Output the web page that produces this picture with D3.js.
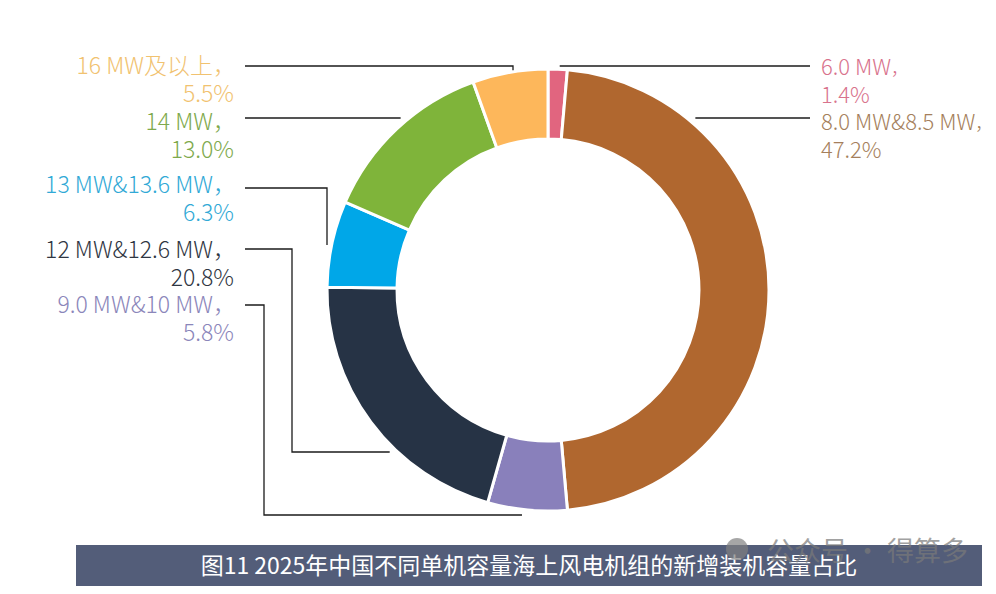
<!DOCTYPE html>
<html><head><meta charset="utf-8">
<script src="https://cdn.jsdelivr.net/npm/d3@7"></script>
<style>
html,body{margin:0;padding:0;background:#fff;}
svg{display:block;}
text{font-family:"Noto Sans CJK SC","Noto Sans",sans-serif;}
</style></head>
<body>
<svg id="chart" width="996" height="594"></svg>
<script>
// ---- data ----
const categories = ["6.0 MW", "8.0 MW&8.5 MW", "9.0 MW&10 MW", "12 MW&12.6 MW", "13 MW&13.6 MW", "14 MW", "16 MW及以上"];
const shares = [1.4, 47.2, 5.8, 20.8, 6.3, 13.0, 5.5];
const sliceColors = ["#e1657f", "#b0672f", "#8980bb", "#263345", "#00a7e8", "#7fb43a", "#fdb75b"];
const labelColors = ["#d8728c", "#a57f5c", "#8b86ba", "#2f3642", "#31a9d6", "#7ea94c", "#f1c270"];
const title = "图11 2025年中国不同单机容量海上风电机组的新增装机容量占比";
const watermark = "公众号 · 得算多";

// ---- layout (positions only) ----
const W = 996, H = 594;
const cx = 548, cy = 290, rOuter = 221, rInner = 151, rAnchor = 226.5;
const labelLayout = [
  {side: "right", y: 67, ly: 66, mode: "midx"},
  {side: "right", y: 122, ly: 118, mode: "h"},
  {side: "left", y: 305, ly: 305, ex: 264, hy: 515, mode: "elbowH"},
  {side: "left", y: 250, ly: 249, ex: 292, hy: 452, mode: "elbowH"},
  {side: "left", y: 185, ly: 188, ex: 327, endY: 245, mode: "elbowV"},
  {side: "left", y: 122, ly: 118, mode: "h"},
  {side: "left", y: 66, ly: 66, mode: "elbowMid"}
];
const leftTextX = 236, rightTextX = 821, leftLineX = 245, rightLineX = 810, lineGap = 28;

const svg = d3.select("#chart");

const pie = d3.pie().sort(null).value(d => d.v).startAngle(0).endAngle(2 * Math.PI);
const arcs = pie(shares.map((v, i) => ({v, i})));
const arc = d3.arc().innerRadius(rInner).outerRadius(rOuter);

const g = svg.append("g").attr("transform", `translate(${cx},${cy})`);
g.selectAll("path.slice").data(arcs).join("path")
  .attr("class", "slice")
  .attr("d", arc)
  .attr("fill", d => sliceColors[d.data.i])
  .attr("stroke", "#fff").attr("stroke-width", 3).attr("stroke-linejoin", "miter");

function circleX(y, r, side) { const dy = y - cy; const dx = Math.sqrt(Math.max(0, r * r - dy * dy)); return side === "left" ? cx - dx : cx + dx; }
function midPoint(a, r) { const m = (a.startAngle + a.endAngle) / 2; return [cx + r * Math.sin(m), cy - r * Math.cos(m)]; }

const lines = svg.append("g").attr("fill", "none").attr("stroke", "#1b1b1b").attr("stroke-width", 1.3);
arcs.forEach((a, i) => {
  const L = labelLayout[i];
  let pts;
  if (L.mode === "h") {
    const x0 = L.side === "left" ? leftLineX : rightLineX;
    pts = [[x0, L.ly], [circleX(L.ly, rAnchor, L.side), L.ly]];
  } else if (L.mode === "midx") {
    const m = midPoint(a, rOuter);
    pts = [[rightLineX, L.ly], [m[0] + 2, L.ly]];
  } else if (L.mode === "elbowMid") {
    const m = midPoint(a, rOuter);
    pts = [[leftLineX, L.ly], [m[0] + 3, L.ly], [m[0] + 3, m[1] - 2]];
  } else if (L.mode === "elbowV") {
    pts = [[leftLineX, L.ly], [L.ex, L.ly], [L.ex, L.endY]];
  } else {
    pts = [[leftLineX, L.ly], [L.ex, L.ly], [L.ex, L.hy], [circleX(L.hy, rAnchor, L.side), L.hy]];
  }
  lines.append("path").attr("d", d3.line()(pts));
});

// labels
const labels = svg.append("g").attr("font-weight", 300);
arcs.forEach((a, i) => {
  const L = labelLayout[i];
  const x = L.side === "left" ? leftTextX : rightTextX;
  const anchor = L.side === "left" ? "end" : "start";
  const fs = L.side === "left" ? 23 : 22;
  const t = labels.append("text").attr("x", x).attr("y", L.y).attr("dy", "0.35em").attr("font-size", fs)
    .attr("text-anchor", anchor).attr("fill", labelColors[i]);
  t.append("tspan").text(categories[i]);
  // full-width comma; on the right side its empty trailing half would run past the edge
  t.append("tspan").attr("font-size", L.side === "left" ? fs : fs * 0.8).text("，");
  labels.append("text").attr("x", L.side === "left" ? x - 2 : x).attr("y", L.y + lineGap).attr("dy", "0.35em").attr("font-size", fs)
    .attr("text-anchor", anchor).attr("fill", labelColors[i])
    .text(d3.format(".1f")(a.data.v) + "%");
});

// title bar
svg.append("rect").attr("x", 76).attr("y", 545).attr("width", 906).attr("height", 41).attr("fill", "#535d79");
svg.append("text").attr("x", 529).attr("y", 566).attr("dy", "0.35em").attr("text-anchor", "middle")
  .attr("fill", "#fff").attr("font-size", 23).text(title);

// watermark
const wm = svg.append("g").attr("opacity", 0.7);
wm.append("circle").attr("cx", 737).attr("cy", 549).attr("r", 11).attr("fill", "#808080");
wm.append("text").attr("x", 767).attr("y", 552).attr("dy", "0.35em").attr("font-size", 27)
  .attr("fill", "#7a7a7a").text(watermark);
</script>
</body></html>
